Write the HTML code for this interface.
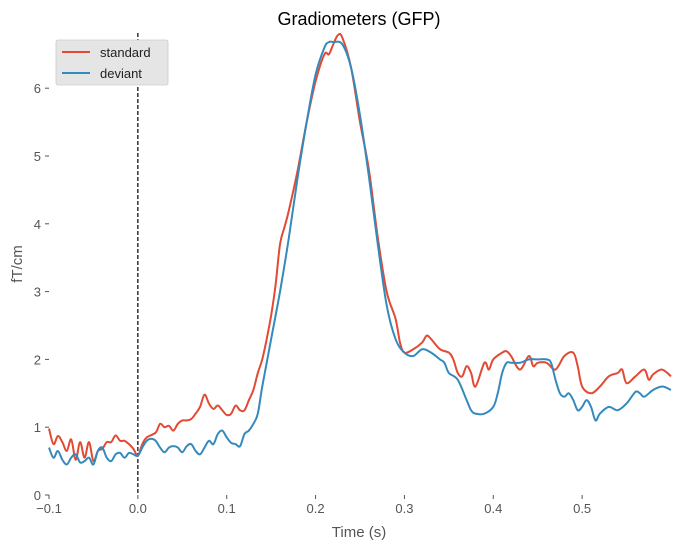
<!DOCTYPE html>
<html><head><meta charset="utf-8"><style>
body{margin:0;background:#fff;}
svg text{font-family:"Liberation Sans",sans-serif;}
</style></head><body>
<svg id="chart" width="679" height="549" xmlns="http://www.w3.org/2000/svg">
<text x="359" y="25" font-size="18" text-anchor="middle" fill="#000">Gradiometers (GFP)</text>
<text x="359" y="537" font-size="15" text-anchor="middle" fill="#555">Time (s)</text>
<text x="22" y="264" font-size="15" text-anchor="middle" fill="#555" transform="rotate(-90 22 264)">fT/cm</text>
<g id="axes"></g>
<g id="series"></g>
<g>
<rect x="56" y="40" width="112" height="45" rx="2" fill="#e5e5e5" stroke="#ccc" stroke-width="0.8"/>
<line x1="62" y1="52" x2="90" y2="52" stroke="#e24a33" stroke-width="2"/>
<text x="100" y="57" font-size="13" fill="#222">standard</text>
<line x1="62" y1="73" x2="90" y2="73" stroke="#348abd" stroke-width="2"/>
<text x="100" y="78" font-size="13" fill="#222">deviant</text>
</g>
</svg>
<script>
const stdTimes=[-0.1,-0.095,-0.09,-0.085,-0.08,-0.075,-0.07,-0.065,-0.06,-0.055,-0.05,-0.045,-0.04,-0.035,-0.03,-0.025,-0.02,-0.015,-0.01,-0.005,0,0.005,0.01,0.02,0.025,0.03,0.035,0.04,0.045,0.05,0.055,0.06,0.065,0.07,0.075,0.08,0.085,0.09,0.095,0.1,0.105,0.11,0.115,0.12,0.125,0.13,0.135,0.14,0.145,0.15,0.155,0.16,0.165,0.17,0.18,0.19,0.2,0.21,0.215,0.22,0.225,0.23,0.24,0.25,0.26,0.27,0.28,0.29,0.295,0.3,0.31,0.32,0.325,0.33,0.34,0.35,0.355,0.36,0.365,0.37,0.375,0.38,0.39,0.395,0.4,0.41,0.415,0.42,0.43,0.44,0.445,0.45,0.46,0.47,0.48,0.49,0.495,0.5,0.51,0.52,0.53,0.54,0.545,0.55,0.56,0.57,0.575,0.58,0.59,0.6];
const stdValues=[0.98,0.75,0.87,0.78,0.65,0.82,0.52,0.78,0.55,0.78,0.5,0.65,0.68,0.78,0.78,0.88,0.8,0.8,0.75,0.68,0.58,0.75,0.85,0.92,1.05,1.0,1.02,0.95,1.05,1.1,1.1,1.12,1.2,1.3,1.48,1.35,1.27,1.32,1.25,1.18,1.2,1.32,1.25,1.25,1.4,1.55,1.8,2.0,2.3,2.65,3.1,3.7,3.95,4.2,4.8,5.5,6.1,6.5,6.5,6.65,6.78,6.75,6.3,5.5,4.8,3.8,3.0,2.6,2.25,2.1,2.15,2.25,2.35,2.3,2.15,2.1,2.0,1.8,1.75,1.9,1.8,1.6,1.95,1.85,2.0,2.1,2.12,2.05,1.85,2.05,1.9,1.95,1.95,1.85,2.05,2.1,1.9,1.6,1.5,1.6,1.75,1.8,1.85,1.65,1.75,1.85,1.7,1.78,1.85,1.75];
const devTimes=[-0.1,-0.095,-0.09,-0.085,-0.08,-0.075,-0.07,-0.065,-0.06,-0.055,-0.05,-0.045,-0.04,-0.035,-0.03,-0.025,-0.02,-0.015,-0.01,-0.005,0,0.005,0.01,0.015,0.02,0.025,0.03,0.035,0.04,0.045,0.05,0.055,0.06,0.065,0.07,0.075,0.08,0.085,0.09,0.095,0.1,0.105,0.11,0.115,0.12,0.125,0.13,0.135,0.14,0.15,0.16,0.17,0.18,0.19,0.2,0.21,0.215,0.22,0.23,0.24,0.25,0.26,0.27,0.28,0.29,0.3,0.31,0.32,0.33,0.34,0.345,0.35,0.36,0.37,0.375,0.38,0.39,0.4,0.405,0.41,0.415,0.42,0.43,0.44,0.45,0.46,0.465,0.47,0.475,0.48,0.485,0.49,0.495,0.5,0.505,0.51,0.515,0.52,0.53,0.54,0.55,0.56,0.565,0.57,0.58,0.59,0.6];
const devValues=[0.7,0.55,0.65,0.52,0.45,0.55,0.6,0.48,0.5,0.55,0.45,0.65,0.7,0.55,0.5,0.6,0.62,0.55,0.62,0.6,0.58,0.7,0.8,0.83,0.8,0.7,0.63,0.7,0.72,0.7,0.63,0.72,0.75,0.65,0.6,0.7,0.8,0.75,0.9,0.95,0.85,0.77,0.75,0.72,0.9,0.95,1.05,1.2,1.6,2.3,3.0,3.8,4.7,5.5,6.2,6.6,6.68,6.68,6.65,6.3,5.6,4.7,3.7,2.8,2.3,2.1,2.05,2.15,2.1,2.0,1.95,1.8,1.7,1.4,1.25,1.2,1.2,1.3,1.5,1.8,1.95,1.95,1.95,2.0,2.0,2.0,1.95,1.7,1.5,1.45,1.5,1.4,1.25,1.3,1.4,1.3,1.1,1.2,1.3,1.25,1.35,1.52,1.5,1.45,1.55,1.6,1.55];
const xTicks=[-0.1,0.0,0.1,0.2,0.3,0.4,0.5];
const xTickLabels=["−0.1","0.0","0.1","0.2","0.3","0.4","0.5"];
const yTicks=[0,1,2,3,4,5,6];

const X0=49,X1=671,tMin=-0.1,tMax=0.6,Y0=495,yPer=67.8;
const xs=t=>X0+(t-tMin)/(tMax-tMin)*(X1-X0);
const ys=v=>Y0-v*yPer;
const NS="http://www.w3.org/2000/svg";
const axes=document.getElementById('axes'),series=document.getElementById('series');
function mk(tag,attrs,parent){const e=document.createElementNS(NS,tag);for(const k in attrs)e.setAttribute(k,attrs[k]);parent.appendChild(e);return e;}
xTicks.forEach((t,i)=>{
  const l=mk('line',{x1:xs(t),x2:xs(t),y1:Y0,y2:Y0+4,stroke:'#555'},axes);
  
  
  const tx=mk('text',{x:xs(t),y:Y0+18,'font-size':13,'text-anchor':'middle',fill:'#555'},axes);
  tx.textContent=xTickLabels[i];
  
  
});
yTicks.forEach(v=>{
  const l=mk('line',{x1:X0-4,x2:X0,y1:ys(v),y2:ys(v),stroke:'#555'},axes);
  
  
  const tx=mk('text',{x:X0-8,y:ys(v)+5,'font-size':13,'text-anchor':'end',fill:'#555'},axes);
  tx.textContent=String(v);
  
  
});
const vl=mk('line',{x1:xs(0),x2:xs(0),y1:33,y2:Y0,stroke:'#000','stroke-dasharray':'4,2','stroke-width':1.2},axes);


function smooth(ts,vs){
  const p=ts.map((t,i)=>[xs(t),ys(vs[i])]);
  let d=`M${p[0][0]},${p[0][1]}`;
  for(let i=0;i<p.length-1;i++){
    const a=p[Math.max(0,i-1)],b=p[i],c=p[i+1],e=p[Math.min(p.length-1,i+2)];
    d+=` C${b[0]+(c[0]-a[0])/6},${b[1]+(c[1]-a[1])/6} ${c[0]-(e[0]-b[0])/6},${c[1]-(e[1]-b[1])/6} ${c[0]},${c[1]}`;
  }
  return d;
}
const ps=mk('path',{d:smooth(stdTimes,stdValues),fill:'none',stroke:'#e24a33','stroke-width':2},series);


const pd=mk('path',{d:smooth(devTimes,devValues),fill:'none',stroke:'#348abd','stroke-width':2},series);


</script>
</body></html>
